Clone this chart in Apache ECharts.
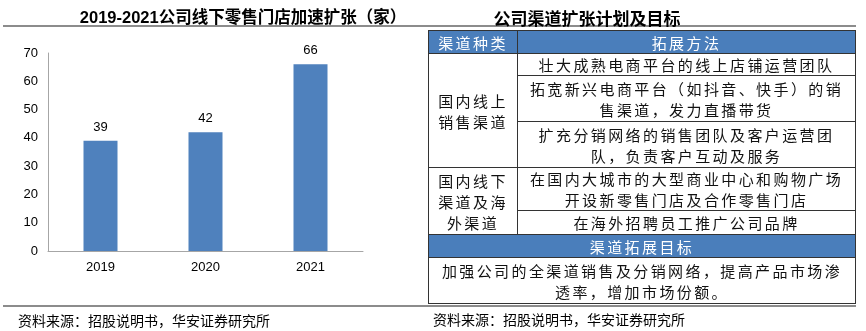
<!DOCTYPE html>
<html>
<head>
<meta charset="utf-8">
<script src="https://cdn.jsdelivr.net/npm/echarts@6/dist/echarts.min.js"></script>
<style>
  body { margin: 0; background: #fff; }
  #wrap { position: relative; width: 866px; height: 331px; overflow: hidden; }
  #chart { position: absolute; left: 0; top: 0; width: 866px; height: 331px; }
  #tbl {
    position: absolute; left: 428px; top: 30px; width: 427px;
    border-collapse: collapse; table-layout: fixed;
    font-family: "Noto Sans CJK SC", sans-serif; font-size: 15px; letter-spacing: 2.4px;
    color: #111; text-align: center;
  }
  #tbl td { border: 1px solid #333; padding: 0; line-height: 21px; white-space: nowrap; overflow: hidden; }
  #tbl td.hd { background: #4a7ebb; color: #fff; }
</style>
</head>
<body>
<div id="wrap">
  <div id="chart"></div>
  <table id="tbl">
    <colgroup><col style="width:89px"><col style="width:338px"></colgroup>
    <tr style="height:23px"><td class="hd">渠道种类</td><td class="hd">拓展方法</td></tr>
    <tr style="height:22px"><td rowspan="3">国内线上<br>销售渠道</td><td>壮大成熟电商平台的线上店铺运营团队</td></tr>
    <tr style="height:46px"><td>拓宽新兴电商平台（如抖音、快手）的销<br>售渠道，发力直播带货</td></tr>
    <tr style="height:46px"><td>扩充分销网络的销售团队及客户运营团<br>队，负责客户互动及服务</td></tr>
    <tr style="height:43px"><td rowspan="2">国内线下<br>渠道及海<br>外渠道</td><td>在国内大城市的大型商业中心和购物广场<br>开设新零售门店及合作零售门店</td></tr>
    <tr style="height:24px"><td>在海外招聘员工推广公司品牌</td></tr>
    <tr style="height:23px"><td class="hd" colspan="2">渠道拓展目标</td></tr>
    <tr style="height:46px"><td colspan="2">加强公司的全渠道销售及分销网络，提高产品市场渗<br>透率，增加市场份额。</td></tr>
  </table>
</div>
<script>
var years = ['2019', '2020', '2021'];
var storeCounts = [39, 42, 66];
var yTicks = { min: 0, max: 70, interval: 10 };

var chart = echarts.init(document.getElementById('chart'), null, { renderer: 'canvas' });

var option = {
  animation: false,
  title: [
    {
      text: '2019-2021公司线下零售门店加速扩张（家）',
      left: 238, top: 5, textAlign: 'center',
      textStyle: { fontSize: 16.5, fontWeight: 'bold', color: '#000', fontFamily: 'Liberation Sans, Noto Sans CJK SC' }
    },
    {
      text: '公司渠道扩张计划及目标',
      left: 582, top: 5, textAlign: 'center',
      textStyle: { fontSize: 17, fontWeight: 'bold', color: '#000', fontFamily: 'Noto Sans CJK SC' }
    },
    {
      text: '资料来源：招股说明书，华安证券研究所',
      left: 13, top: 309,
      textStyle: { fontSize: 14, fontWeight: 'normal', color: '#000', fontFamily: 'Noto Sans CJK SC' }
    },
    {
      text: '资料来源：招股说明书，华安证券研究所',
      left: 428, top: 308,
      textStyle: { fontSize: 14, fontWeight: 'normal', color: '#000', fontFamily: 'Noto Sans CJK SC' }
    }
  ],
  graphic: [
    { type: 'line', shape: { x1: 3, y1: 26, x2: 856, y2: 26 }, style: { stroke: '#8c8c8c', lineWidth: 2 } },
    { type: 'line', shape: { x1: 3, y1: 306, x2: 856, y2: 306 }, style: { stroke: '#8c8c8c', lineWidth: 2 } }
  ],
  grid: { left: 48, right: 503, top: 53, bottom: 80 },
  xAxis: {
    type: 'category',
    data: years,
    axisLine: { lineStyle: { color: '#a6a6a6' } },
    axisTick: { show: false },
    axisLabel: { color: '#000', fontSize: 13, fontFamily: 'Liberation Sans', margin: 10 }
  },
  yAxis: {
    type: 'value',
    min: yTicks.min, max: yTicks.max, interval: yTicks.interval,
    axisLine: { show: true, lineStyle: { color: '#a6a6a6' } },
    axisTick: { show: false },
    splitLine: { show: false },
    axisLabel: { color: '#000', fontSize: 13, fontFamily: 'Liberation Sans', margin: 10 }
  },
  series: [{
    type: 'bar',
    data: storeCounts,
    barWidth: 34,
    itemStyle: { color: '#4f81bd' },
    label: { show: true, position: 'top', distance: 7, color: '#000', fontSize: 13, fontFamily: 'Liberation Sans' }
  }]
};

chart.setOption(option);
</script>
</body>
</html>
